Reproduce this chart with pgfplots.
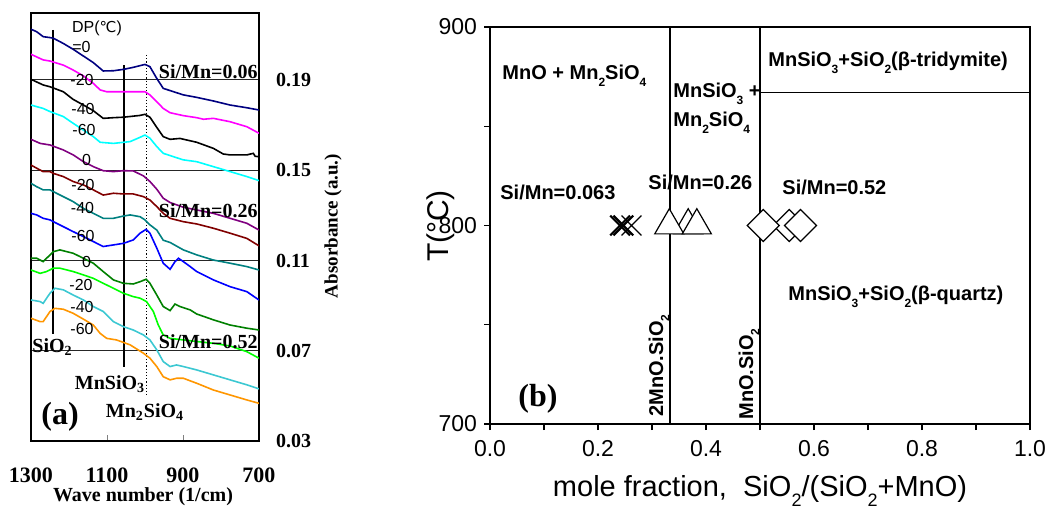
\documentclass[border=0pt]{standalone}
\usepackage{fontspec}
\setmainfont{Liberation Sans}
\newfontfamily\tnr{Liberation Serif}
\newfontfamily\dejavu{DejaVu Sans}
\usepackage{pgfplots}
\pgfplotsset{compat=1.18}
\newcommand\fs[1]{\fontsize{#1}{#1}\selectfont}
\newcommand\lsub[1]{\raisebox{-0.6ex}{\fs{6}#1}}
\newcommand\lsubb[1]{\raisebox{-0.7ex}{\fs{9}#1}}
\definecolor{cnavy}{RGB}{0,0,128}
\definecolor{cmag}{RGB}{255,0,255}
\definecolor{ccyan}{RGB}{0,255,255}
\definecolor{cpurp}{RGB}{128,0,128}
\definecolor{cdred}{RGB}{128,0,0}
\definecolor{cteal}{RGB}{0,128,128}
\definecolor{cblue}{RGB}{0,0,255}
\definecolor{cgreen}{RGB}{0,128,0}
\definecolor{clime}{RGB}{0,255,0}
\definecolor{cturq}{RGB}{60,200,210}
\definecolor{corange}{RGB}{255,150,0}
\begin{document}
\begin{tikzpicture}[x=1pt,y=1pt]
\path[use as bounding box] (0,0) rectangle (523.5,254);

% ---------------- panel (a)
\begin{axis}[at={(15.5pt,33.5pt)}, anchor=south west, scale only axis,
 width=114pt, height=214pt,
 x dir=reverse, xmin=700, xmax=1300, ymin=0.03, ymax=0.2197,
 axis line style={line width=1pt},
 xtick={700,900,1100,1300}, xticklabels={700,900,1100,1300},
 xtick pos=left, xtick align=inside, major tick length=3pt,
 xticklabel style={font=\tnr\bfseries\fs{11}, yshift=-10pt},
 ytick={0.03,0.07,0.11,0.15,0.19}, yticklabels={0.03,0.07,0.11,0.15,0.19},
 ytick pos=right, yticklabel pos=right, ytick style={draw=none},
 yticklabel style={font=\tnr\bfseries\fs{10}, xshift=5pt},
 ymajorgrids, grid style={black!85, line width=0.5pt},
 every axis plot/.append style={line width=0.8pt},
]
\addplot[black, line width=0.7pt] coordinates {(1242,0.2122)(1242,0.0775)};
\addplot[black, line width=0.7pt] coordinates {(1055,0.1966)(1055,0.0629)};
\addplot[black, line width=0.6pt, densely dotted] coordinates {(997,0.2011)(997,0.0496)};
\addplot[cnavy] coordinates {(1300,0.2125)(1285,0.2114)(1268,0.2092)(1250,0.2088)(1241,0.2085)(1215,0.2062)(1189,0.2036)(1162,0.2006)(1136,0.1977)(1110,0.1940)(1083,0.1941)(1057,0.1947)(1031,0.1956)(1000,0.1969)(987,0.1959)(969,0.1907)(952,0.1863)(934,0.1853)(899,0.1834)(864,0.1823)(820,0.1807)(776,0.1789)(732,0.1777)(700,0.1767)};
\addplot[cmag] coordinates {(1300,0.2014)(1268,0.1989)(1250,0.1984)(1215,0.1966)(1189,0.1944)(1162,0.1918)(1136,0.1885)(1118,0.1856)(1101,0.1848)(1000,0.1848)(987,0.1834)(969,0.1804)(952,0.1774)(934,0.1755)(899,0.1742)(864,0.1733)(846,0.1726)(820,0.1730)(776,0.1715)(732,0.1693)(700,0.1664)};
\addplot[black] coordinates {(1300,0.1903)(1268,0.1878)(1250,0.1870)(1215,0.1848)(1189,0.1814)(1162,0.1789)(1136,0.1764)(1110,0.1730)(1083,0.1733)(1057,0.1735)(1013,0.1743)(1000,0.1748)(987,0.1735)(969,0.1690)(952,0.1649)(934,0.1637)(908,0.1641)(864,0.1624)(820,0.1597)(794,0.1572)(776,0.1568)(732,0.1568)(715,0.1575)(710,0.1562)(700,0.1560)};
\addplot[ccyan] coordinates {(1300,0.1789)(1268,0.1774)(1250,0.1760)(1215,0.1738)(1189,0.1708)(1162,0.1678)(1136,0.1649)(1118,0.1624)(1083,0.1619)(1039,0.1627)(1013,0.1646)(1000,0.1656)(987,0.1642)(969,0.1605)(952,0.1575)(925,0.1560)(899,0.1546)(864,0.1538)(820,0.1516)(776,0.1494)(732,0.1472)(700,0.1454)};
\addplot[cpurp] coordinates {(1300,0.1637)(1276,0.1619)(1250,0.1612)(1215,0.1590)(1189,0.1568)(1162,0.1538)(1136,0.1516)(1110,0.1498)(1083,0.1494)(1057,0.1498)(1031,0.1497)(1004,0.1475)(987,0.1450)(969,0.1416)(952,0.1376)(934,0.1357)(899,0.1336)(864,0.1324)(820,0.1309)(776,0.1287)(732,0.1265)(700,0.1235)};
\addplot[cdred] coordinates {(1300,0.1523)(1285,0.1509)(1268,0.1494)(1250,0.1494)(1241,0.1486)(1215,0.1472)(1189,0.1450)(1162,0.1435)(1136,0.1413)(1110,0.1390)(1083,0.1398)(1057,0.1395)(1031,0.1395)(1004,0.1383)(987,0.1368)(969,0.1339)(952,0.1309)(934,0.1287)(899,0.1272)(864,0.1262)(820,0.1243)(776,0.1221)(732,0.1198)(700,0.1165)};
\addplot[cteal] coordinates {(1300,0.1442)(1285,0.1427)(1268,0.1413)(1250,0.1413)(1241,0.1405)(1215,0.1383)(1189,0.1361)(1162,0.1331)(1136,0.1309)(1110,0.1287)(1083,0.1287)(1057,0.1297)(1039,0.1302)(1013,0.1294)(1000,0.1280)(987,0.1258)(969,0.1235)(952,0.1190)(934,0.1180)(899,0.1147)(864,0.1125)(820,0.1102)(776,0.1088)(732,0.1073)(700,0.1058)};
\addplot[cblue] coordinates {(1300,0.1309)(1285,0.1302)(1268,0.1287)(1250,0.1280)(1241,0.1272)(1215,0.1250)(1189,0.1228)(1162,0.1206)(1136,0.1184)(1110,0.1162)(1083,0.1169)(1057,0.1176)(1031,0.1191)(1013,0.1221)(997,0.1238)(987,0.1221)(969,0.1155)(952,0.1088)(934,0.1061)(921,0.1095)(912,0.1110)(899,0.1095)(881,0.1073)(864,0.1051)(820,0.1014)(776,0.0984)(732,0.0962)(700,0.0925)};
\addplot[cgreen] coordinates {(1300,0.1110)(1285,0.1110)(1268,0.1095)(1259,0.1110)(1241,0.1139)(1224,0.1147)(1189,0.1132)(1162,0.1110)(1136,0.1088)(1110,0.1051)(1083,0.1014)(1057,0.0999)(1031,0.0996)(1013,0.1006)(997,0.1017)(987,0.0999)(969,0.0947)(952,0.0896)(934,0.0878)(921,0.0907)(908,0.0896)(881,0.0881)(864,0.0863)(820,0.0837)(776,0.0814)(732,0.0800)(700,0.0792)};
\addplot[clime] coordinates {(1300,0.1058)(1276,0.1043)(1259,0.1051)(1241,0.1066)(1224,0.1066)(1189,0.1051)(1162,0.1036)(1136,0.1021)(1110,0.0999)(1083,0.0977)(1057,0.0955)(1031,0.0940)(1013,0.0933)(996,0.0918)(978,0.0874)(965,0.0814)(952,0.0770)(934,0.0755)(899,0.0748)(864,0.0741)(820,0.0733)(776,0.0721)(732,0.0696)(700,0.0667)};
\addplot[cturq] coordinates {(1300,0.0925)(1276,0.0918)(1268,0.0910)(1250,0.0955)(1237,0.0977)(1215,0.0970)(1189,0.0947)(1162,0.0925)(1136,0.0896)(1110,0.0874)(1083,0.0829)(1057,0.0807)(1031,0.0792)(1004,0.0770)(987,0.0748)(969,0.0704)(952,0.0652)(934,0.0630)(917,0.0637)(899,0.0630)(864,0.0615)(820,0.0593)(776,0.0571)(732,0.0549)(700,0.0531)};
\addplot[corange] coordinates {(1300,0.0844)(1276,0.0829)(1268,0.0829)(1250,0.0874)(1237,0.0888)(1215,0.0884)(1189,0.0866)(1162,0.0840)(1136,0.0814)(1118,0.0777)(1101,0.0755)(1075,0.0748)(1039,0.0726)(1004,0.0689)(987,0.0667)(969,0.0630)(952,0.0585)(934,0.0571)(917,0.0578)(899,0.0578)(864,0.0556)(820,0.0526)(776,0.0504)(732,0.0482)(700,0.0467)};
\end{axis}

% panel (a) annotations
\begin{scope}[every node/.style={font=\fs{8}, inner sep=0pt}]
\node at (48.5,240) {DP({\dejavu\fs{7.5}℃})};
\node at (40.75,230.5) {=0};
\node at (41,214) {-20};
\node at (41.5,199.5) {-40};
\node at (42,189) {-60};
\node at (43.25,174) {0};
\node at (41.5,161.5) {-20};
\node at (41.25,150) {-40};
\node at (41.5,136) {-60};
\node at (43.25,123) {0};
\node at (40.5,111.5) {-20};
\node at (41,100.5) {-40};
\node at (41,89.5) {-60};
\end{scope}
\begin{scope}[every node/.style={font=\tnr\bfseries\fs{10}, inner sep=0pt}]
\node[anchor=east] at (129,218) {Si/Mn=0.06};
\node[anchor=east] at (129,148.75) {Si/Mn=0.26};
\node[anchor=east] at (129,83.25) {Si/Mn=0.52};
\node[anchor=west] at (16,80.5) {SiO\textsubscript{2}};
\node at (55,62) {MnSiO\textsubscript{3}};
\node at (72.5,48) {Mn\textsubscript{2}SiO\textsubscript{4}};
\node at (71.5,5.5) {Wave number (1/cm)};
\node[rotate=90, font=\tnr\bfseries\fs{9.5}] at (166.5,141) {Absorbance (a.u.)};
\node[font=\tnr\bfseries\fs{16}] at (30,45.5) {(a)};
\end{scope}

% ---------------- panel (b)
\begin{axis}[at={(245pt,42pt)}, anchor=south west, scale only axis,
 width=270pt, height=198.5pt,
 xmin=0, xmax=1, ymin=700, ymax=900,
 axis line style={line width=0.9pt},
 xtick={0,0.2,0.4,0.6,0.8,1}, xticklabels={0.0,0.2,0.4,0.6,0.8,1.0},
 minor xtick={0.1,0.3,0.5,0.7,0.9},
 ytick={700,800,900}, yticklabels={700,800,900}, minor ytick={750,850},
 tick pos=left, tick align=outside, major tick length=3pt, minor tick length=3pt,
 tick style={line width=0.6pt, black},
 ticklabel style={font=\fs{11.5}},
 xticklabel style={yshift=-1.5pt},
 clip=false,
]
\addplot[black, line width=0.9pt] coordinates {(0.3333,700)(0.3333,900)};
\addplot[black, line width=0.9pt] coordinates {(0.5,700)(0.5,900)};
\addplot[black, line width=0.9pt] coordinates {(0.5,867)(1,867)};
\addplot[only marks, mark=x, mark size=7pt, mark options={line width=1.1pt, black}] coordinates {(0.241,800)(0.247,800)};
\addplot[only marks, mark=x, mark size=7pt, mark options={line width=0.7pt, black}] coordinates {(0.262,800)};
\addplot[only marks, mark=triangle*, mark size=8.4pt, mark options={fill=white, draw=black, line width=0.6pt}] coordinates {(0.367,800)(0.332,800)(0.383,800)};
\addplot[only marks, mark=square*, mark size=5.66pt, mark options={fill=white, draw=black, line width=0.6pt, rotate=45}] coordinates {(0.554,800)(0.506,800)(0.575,800)};
\end{axis}

\begin{scope}[every node/.style={font=\bfseries\fs{10}, inner sep=0pt}]
\node[anchor=base west] at (251,214) {MnO + Mn\lsub{2}SiO\lsub{4}};
\node[anchor=base west] at (336.5,205) {MnSiO\lsub{3} +};
\node[anchor=base west] at (336.5,190.5) {Mn\lsub{2}SiO\lsub{4}};
\node[anchor=base west] at (250,154) {Si/Mn=0.063};
\node[anchor=base west] at (324,159) {Si/Mn=0.26};
\node[anchor=base west] at (391,156.5) {Si/Mn=0.52};
\node[anchor=base west] at (384,220.5) {MnSiO\lsub{3}+SiO\lsub{2}(β-tridymite)};
\node[anchor=base west] at (394,103.5) {MnSiO\lsub{3}+SiO\lsub{2}(β-quartz)};
\node[anchor=base west, rotate=90] at (331.5,45.5) {2MnO.SiO\lsub{2}};
\node[anchor=base west, rotate=90] at (376.5,44) {MnO.SiO\lsub{2}};
\node[font=\tnr\bfseries\fs{16}] at (269,54.5) {(b)};
\node[rotate=90, font=\fs{15}] at (220.5,141) {T(°C)};
\node[font=\fs{14.5}] at (380,8.5) {mole fraction,\ \ SiO\lsubb{2}/(SiO\lsubb{2}+MnO)};
\end{scope}
\end{tikzpicture}
\end{document}
